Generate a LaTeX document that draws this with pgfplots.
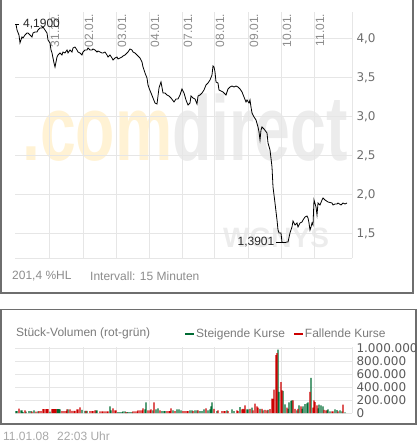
\documentclass[border=0pt]{standalone}
\usepackage{fontspec}
\setmainfont{Liberation Sans}
\newfontfamily\dejavu{DejaVu Sans}
\usepackage{pgfplots}
\pgfplotsset{compat=1.18}
\definecolor{gridc}{HTML}{E6E6E6}
\definecolor{framec}{HTML}{6E6E6E}
\definecolor{upc}{HTML}{006B33}
\definecolor{downc}{HTML}{CC0000}
\definecolor{tickc}{HTML}{6E6E6E}
\definecolor{vtickc}{HTML}{5A5A5A}
\definecolor{datec}{HTML}{8C8C8C}
\definecolor{txtc}{HTML}{7A7A7A}
\definecolor{lightc}{HTML}{A8A8A8}
\definecolor{wmy}{HTML}{FFF2D4}
\definecolor{wmg}{HTML}{ECECEC}
\begin{document}
\begin{tikzpicture}[x=1pt,y=1pt]
\useasboundingbox (0pt,0pt) rectangle (417pt,-443pt);
% watermark
\node[anchor=base west, inner sep=0pt, xscale=0.7, font=\fontsize{92}{92}\selectfont\bfseries] at (22pt,-161pt) {\textcolor{wmy}{.com}\textcolor{wmg}{direct}};
\node[anchor=base west, inner sep=0pt, font=\fontsize{28}{28}\selectfont\bfseries, text=wmg] at (223pt,-247pt) {WGNYS};
% frames
\draw[framec, line width=1.5pt] (0.75pt,0pt) -- (0.75pt,-293pt) -- (413pt,-293pt) -- (413pt,0pt);
\draw[framec, line width=1.5pt] (0.75pt,-309.5pt) rectangle (416pt,-424pt);
% price axis
\begin{axis}[
  at={(15pt,-258pt)}, anchor=south west,
  width=337pt, height=246pt, scale only axis,
  xmin=15, xmax=352, ymin=1.192, ymax=4.346,
  axis line style={draw=none},
  grid=major, major grid style={gridc, line width=1pt},
  major tick length=0pt,
  xtick={49,83,116,149,182,214,248,281,314},
  xticklabels={31.12.,02.01.,03.01.,04.01.,07.01.,08.01.,09.01.,10.01.,11.01.},
  extra x ticks={352}, extra x tick labels={},
  extra y ticks={1.192}, extra y tick labels={},
  xticklabel pos=upper,
  xticklabel style={font=\fontsize{12}{12}\selectfont, text=datec, xshift=1.5pt, yshift=-1.5pt, rotate=90, anchor=north east, inner sep=0pt},
  ytick={1.5,2.0,2.5,3.0,3.5,4.0},
  yticklabel pos=right,
  yticklabel style={font=\dejavu\fontsize{12}{12}\selectfont, text=tickc, anchor=west, xshift=1pt},
  /pgf/number format/.cd, fixed, fixed zerofill, precision=1, use comma, assume math mode=true,
]
\addplot[black, line width=0.8pt] coordinates {
(16,4.19) (17,4.115) (19,4.05) (20,3.949) (22,4.026) (23,4.013) (25,4.051) (27,4.077) (28,4.077) (30,4.051)
(32,4.026) (33,4.077) (35,4.090) (37,4.090) (38,4.115) (40,4.141) (42,4.141) (43,4.154) (45,4.115) (47,4.077)
(48,3.987) (50,3.949) (51,3.859) (52,3.821) (53,3.756) (54,3.692) (55,3.641) (57,3.769) (58,3.795) (60,3.821)
(62,3.795) (63,3.833) (65,3.821) (67,3.859) (68,3.821) (70,3.859) (72,3.833) (73,3.885) (75,3.897) (77,3.859)
(78,3.833) (80,3.821) (82,3.795) (83,3.833) (85,3.859) (87,3.859) (88,3.885) (90,3.859) (92,3.859) (93,3.872)
(95,3.859) (97,3.833) (98,3.846) (100,3.833) (102,3.821) (103,3.821) (105,3.833) (107,3.795) (108,3.769) (110,3.795)
(112,3.756) (113,3.731) (115,3.756) (117,3.769) (118,3.744) (120,3.756) (122,3.769) (123,3.782) (125,3.795) (127,3.821)
(128,3.833) (130,3.872) (132,3.859) (133,3.833) (135,3.821) (137,3.795) (138,3.782) (140,3.756) (142,3.705) (143,3.641)
(145,3.564) (147,3.5) (148,3.410) (149,3.372) (151,3.308) (153,3.244) (155,3.179) (157,3.167) (159,3.372) (161,3.449)
(163,3.308) (165,3.308) (167,3.282) (169,3.269) (171,3.244) (174,3.192) (176,3.231) (178,3.231) (180,3.282) (182,3.359)
(184,3.308) (186,3.218) (188,3.154) (190,3.179) (191,3.269) (193,3.244) (195,3.231) (197,3.167) (198,3.269) (200,3.282)
(202,3.308) (204,3.346) (206,3.410) (208,3.436) (210,3.474) (212,3.538) (213,3.654) (214,3.641) (215,3.577) (216,3.449)
(218,3.436) (219,3.346) (221,3.333) (223,3.321) (226,3.282) (228,3.359) (230,3.385) (232,3.397) (234,3.385) (236,3.397)
(238,3.385) (240,3.359) (242,3.321) (244,3.256) (246,3.192) (247,3.218) (249,3.179) (250,3.218) (251,3.128) (252,3.051)
(254,3.0) (256,2.962) (258,2.872) (259,2.808) (260,2.705) (261,2.833) (262,2.872) (264,2.846) (267,2.795) (268,2.667)
(270,2.577) (272,2.359) (273,2.103) (275,1.897) (277,1.679) (278,1.551) (279,1.513) (281,1.513) (282,1.39) (283,1.39)
(285,1.39) (287,1.397) (288,1.397) (290,1.513) (292,1.590) (293,1.667) (295,1.615) (297,1.641) (298,1.590) (300,1.641)
(302,1.654) (303,1.679) (305,1.718) (307,1.731) (308,1.705) (309,1.641) (310,1.551) (311,1.590) (312,1.641) (313,1.615)
(314,1.936) (316,1.846) (317,1.744) (318,1.897) (320,1.872) (322,1.936) (323,1.962) (325,1.936) (328,1.910) (332,1.897)
(333,1.872) (335,1.885) (337,1.885) (338,1.897) (341,1.872) (343,1.897) (345,1.885) (347,1.897)
};
\addplot[black, line width=0.8pt] coordinates {(11,4.19) (19,4.19)};
\addplot[black, line width=0.8pt] coordinates {(276,1.39) (284,1.39)};
\node[anchor=west, inner sep=0pt, font=\fontsize{12}{12}\selectfont, text=black!85] at (axis cs:23,4.19) {4,1900};
\node[anchor=east, inner sep=0pt, font=\fontsize{12}{12}\selectfont, text=black!85] at (axis cs:274.5,1.39) {1,3901};
\end{axis}
% volume axis
\begin{axis}[
  at={(15pt,-413pt)}, anchor=south west,
  width=337pt, height=66pt, scale only axis,
  xmin=15, xmax=352, ymin=0, ymax=1025000,
  axis line style={draw=none},
  grid=major, major grid style={gridc, line width=1pt},
  major tick length=0pt,
  xtick={49,83,116,149,182,214,248,281,314}, xticklabels={},
  extra x ticks={352}, extra x tick labels={},
  ytick={0,200000,400000,600000,800000,1000000},
  scaled y ticks=false,
  yticklabel pos=right,
  yticklabel style={font=\dejavu\fontsize{12}{12}\selectfont, text=vtickc, anchor=west, xshift=1pt},
  /pgf/number format/.cd, fixed, 1000 sep={.}, assume math mode=true,
  /pgfplots/.cd,
  ybar, bar width=1.3, bar shift=0pt,
  legend columns=2,
  legend style={at={(axis description cs:0.5045,1.197)}, anchor=west, draw=none, fill=none, inner sep=0pt, font=\fontsize{12}{12}\selectfont, text=txtc, /tikz/every even column/.append style={column sep=7pt}},
]
\addplot[fill=upc, draw=none, legend image code/.code={\fill[upc] (0pt,-1.35pt) rectangle (9pt,1.35pt);}] coordinates {
(16,30000) (17,30000) (21,40000) (22,40000) (23,15000) (26,20000) (29,30000) (31,30000) (34,40000) (38,25000)
(50,20000) (57,60000) (58,60000) (59,60000) (60,55000) (68,55000) (82,50000) (85,35000) (87,35000) (96,40000) (97,40000)
(110,104000) (111,40000) (118,15000) (120,15000) (122,15000) (123,25000) (125,25000) (127,10000) (128,15000)
(130,15000) (132,15000) (145,55000) (146,166000) (153,40000) (156,55000) (158,73000) (162,30000) (164,30000)
(165,30000) (173,40000) (177,55000) (179,55000) (181,40000) (190,40000) (192,40000) (195,40000) (197,40000)
(200,30000) (202,30000) (204,55000) (208,40000) (210,55000) (211,104000) (212,166000) (217,30000) (227,40000)
(232,55000) (234,30000) (240,93000) (247,55000) (248,55000) (252,85000) (260,65000) (263,40000) (268,50000)
(278,984000) (279,327000) (283,342000) (285,135000) (288,65000) (289,166000) (291,187000) (292,197000)
(297,40000) (299,120000) (302,65000) (303,104000) (305,137000) (307,149000) (308,166000) (311,545000)
(318,73000) (319,130000) (321,120000) (323,104000) (327,40000) (328,55000) (330,25000) (335,55000) (337,45000)
(340,40000) (342,25000) (345,10000)
};
\addlegendentry{Steigende Kurse}
\addplot[fill=downc, draw=none, legend image code/.code={\fill[downc] (0pt,-1.35pt) rectangle (9pt,1.35pt);}] coordinates {
(19,67000) (25,40000) (32,20000) (36,20000) (39,30000) (41,30000) (43,60000) (44,60000) (46,60000) (47,60000)
(48,60000) (52,60000) (53,60000) (54,60000) (55,60000) (56,60000) (62,30000) (64,30000) (66,30000) (67,55000)
(70,55000) (72,35000) (74,35000) (75,35000) (77,55000) (78,55000) (80,88000) (86,35000) (90,30000) (92,30000)
(93,30000) (95,40000) (100,25000) (102,25000) (103,25000) (105,25000) (107,25000) (108,25000) (113,72000)
(115,40000) (116,40000) (126,15000) (133,25000) (135,25000) (137,25000) (138,40000) (140,40000) (142,40000)
(143,73000) (148,40000) (150,40000) (151,55000) (154,166000) (160,40000) (167,30000) (169,30000) (170,30000)
(171,73000) (175,30000) (183,30000) (185,30000) (187,30000) (188,30000) (193,30000) (198,40000) (206,73000)
(214,65000) (218,40000) (222,30000) (224,30000) (225,30000) (228,30000) (237,40000) (238,30000) (242,55000)
(243,65000) (244,55000) (245,120000) (250,65000) (253,40000) (255,146000) (257,104000) (258,85000) (262,65000)
(265,50000) (267,40000) (270,60000) (272,224000) (273,220000) (274,364000) (276,898000) (277,930000)
(281,478000) (282,353000) (287,85000) (293,197000) (295,65000) (298,65000) (301,104000) (310,327000)
(313,85000) (314,197000) (315,170000) (317,120000) (324,50000) (326,40000) (332,25000) (333,25000)
(338,25000) (343,130000)
};
\addlegendentry{Fallende Kurse}
\end{axis}
% texts
\node[anchor=west, inner sep=0pt, font=\fontsize{12}{12}\selectfont, text=datec] at (12pt,-276pt) {201,4 \%HL};
\node[anchor=west, inner sep=0pt, font=\fontsize{12}{12}\selectfont, text=datec] at (90pt,-276pt) {Intervall: 15 Minuten};
\node[anchor=west, inner sep=0pt, font=\fontsize{12}{12}\selectfont, text=txtc] at (16pt,-333pt) {Stück-Volumen (rot-grün)};
\node[anchor=west, inner sep=0pt, font=\fontsize{12}{12}\selectfont, text=lightc] at (3pt,-436pt) {11.01.08};
\node[anchor=west, inner sep=0pt, font=\fontsize{12}{12}\selectfont, text=lightc] at (57pt,-436pt) {22:03 Uhr};
\end{tikzpicture}
\end{document}
